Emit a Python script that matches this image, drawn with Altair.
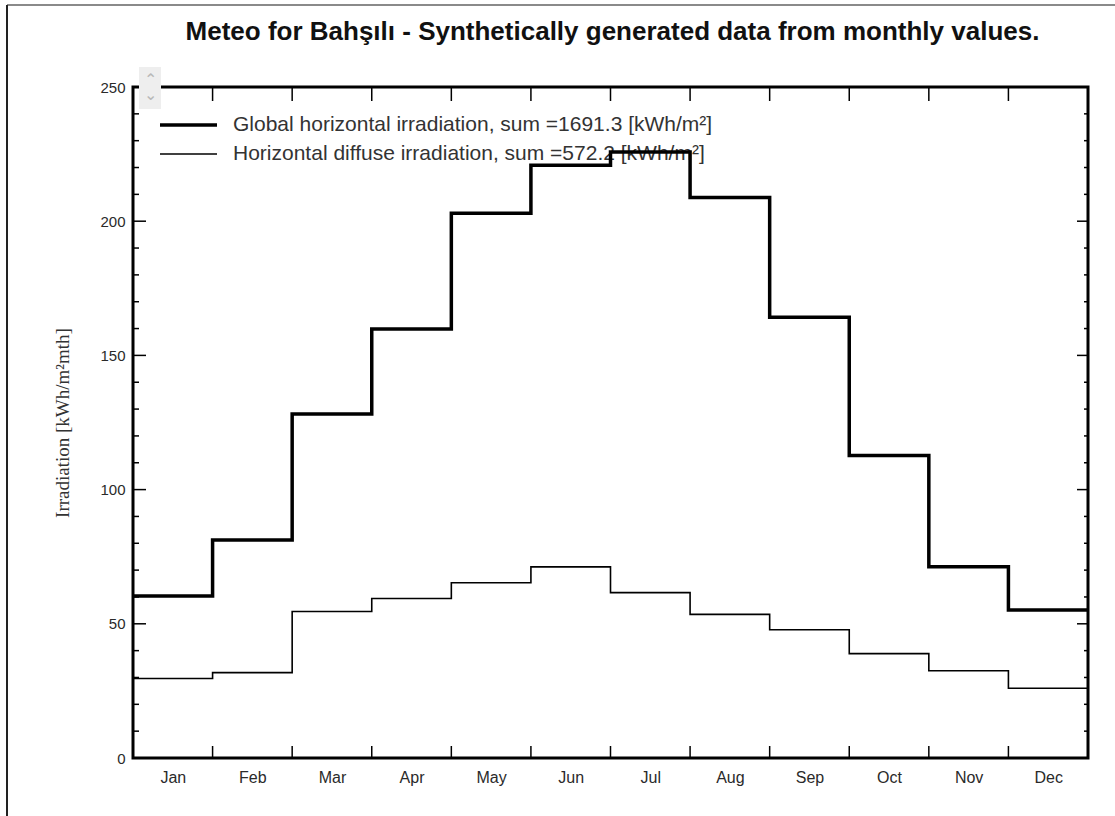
import altair as alt
import pandas as pd

# Monthly irradiation sums [kWh/m²·month]
months = ["Jan", "Feb", "Mar", "Apr", "May", "Jun",
          "Jul", "Aug", "Sep", "Oct", "Nov", "Dec"]
global_irr = [60.4, 81.2, 128.2, 159.8, 203.0, 220.8,
              225.8, 208.8, 164.2, 112.7, 71.3, 55.1]
diffuse_irr = [29.6, 31.8, 54.6, 59.4, 65.3, 71.2,
               61.6, 53.5, 47.8, 38.9, 32.5, 26.0]
series_names = ["Global horizontal irradiation",
                "Horizontal diffuse irradiation"]
chart_title = "Meteo for Bahşılı - Synthetically generated data from monthly values."

# Axis ticks
y_labels = [0, 50, 100, 150, 200, 250]
y_major_inner = [50, 100, 150, 200]
y_minor = [10, 20, 30, 40, 60, 70, 80, 90, 110, 120, 130, 140,
           160, 170, 180, 190, 210, 220, 230, 240]
month_edges = [1, 2, 3, 4, 5, 6, 7, 8, 9, 10, 11]
month_centers = [0.5, 1.5, 2.5, 3.5, 4.5, 5.5, 6.5, 7.5, 8.5, 9.5, 10.5, 11.5]

W, H = 955, 671
FONT = "Liberation Sans"
TXT = "#2a2a2a"

xs = alt.Scale(domain=[0, 12], nice=False, zero=False)
ys = alt.Scale(domain=[0, 250], nice=False)

month_expr = "[" + ",".join(f"'{m}'" for m in months) + "][floor(datum.value)]"
x_axis = alt.Axis(values=month_centers, labelExpr=month_expr, title=None,
                  tickSize=0, domain=False, grid=False, labelPadding=11,
                  labelFontSize=16, labelColor=TXT, labelFont=FONT,
                  labelOverlap=False)
y_axis = alt.Axis(values=y_labels, title="Irradiation [kWh/m²mth]",
                  tickSize=0, domain=False, grid=False, labelPadding=8,
                  labelFontSize=15, labelColor=TXT, labelFont=FONT,
                  titleFont="Liberation Serif", titleFontSize=19,
                  titleFontWeight="normal", titleColor="#333333",
                  titleAngle=270, titleX=-71, titleY=H / 2,
                  titleAlign="center", titleBaseline="middle")


def step_frame(values):
    rows = [{"x": i, "v": v} for i, v in enumerate(values)]
    rows.append({"x": len(values), "v": values[-1]})
    return pd.DataFrame(rows)


X = lambda f: alt.X(f, scale=xs, axis=x_axis)
Y = lambda f: alt.Y(f, scale=ys, axis=y_axis)

one = pd.DataFrame({"k": [0]})
layers = []

# Page border (top and left edges)
layers.append(alt.Chart(one).mark_rule(color="#8a8a8a", strokeWidth=2).encode(
    x=alt.value(-126), x2=alt.value(W + 40), y=alt.value(-82)))
layers.append(alt.Chart(one).mark_rule(color="#222222", strokeWidth=2).encode(
    x=alt.value(-126), y=alt.value(-82), y2=alt.value(H + 70)))

# Chart heading
layers.append(alt.Chart(pd.DataFrame({"t": [chart_title]})).mark_text(
    font=FONT, fontSize=26, fontWeight="bold", color="#111111",
    align="center", baseline="middle"
).encode(x=alt.value(W / 2 + 2), y=alt.value(-55), text="t:N"))

# Small scroll widget at the top-left corner of the frame
layers.append(alt.Chart(one).mark_rect(color="#eeeeee").encode(
    x=alt.value(6), x2=alt.value(28), y=alt.value(-20), y2=alt.value(22)))
for ch, yy in (("⌃", -7), ("⌄", 8)):
    layers.append(alt.Chart(one).mark_text(
        fontSize=16, color="#b8b8b8", font=FONT
    ).encode(x=alt.value(17), y=alt.value(yy), text=alt.value(ch)))

# Inward tick marks on all four sides of the frame
edges = pd.DataFrame({"b": month_edges})
layers.append(alt.Chart(edges).mark_rule(color="black", strokeWidth=1.5).encode(
    x=X("b:Q"), y=alt.value(H), y2=alt.value(H - 12)))
layers.append(alt.Chart(edges).mark_rule(color="black", strokeWidth=1.5).encode(
    x=X("b:Q"), y=alt.value(0), y2=alt.value(14)))
major = pd.DataFrame({"t": y_major_inner})
minor = pd.DataFrame({"t": y_minor})
for df, ln in ((major, 13), (minor, 6)):
    layers.append(alt.Chart(df).mark_rule(color="black", strokeWidth=1.5).encode(
        y=Y("t:Q"), x=alt.value(0), x2=alt.value(ln)))
    layers.append(alt.Chart(df).mark_rule(color="black", strokeWidth=1.5).encode(
        y=Y("t:Q"), x=alt.value(W - ln + 2), x2=alt.value(W)))

# Legend rows and step lines
widths = [3.5, 1.6]
for i, (name, vals, sw) in enumerate(zip(series_names, [global_irr, diffuse_irr], widths)):
    label = f"{name}, sum ={sum(vals):.1f} [kWh/m²]"
    ldf = pd.DataFrame({"label": [label]})
    ly = 38 + 29 * i
    layers.append(alt.Chart(ldf).mark_rule(color="black", strokeWidth=sw).encode(
        x=alt.value(27), x2=alt.value(84), y=alt.value(ly)))
    layers.append(alt.Chart(ldf).mark_text(
        align="left", baseline="middle", font=FONT, fontSize=21, color="#333333"
    ).encode(x=alt.value(100), y=alt.value(ly), text="label:N"))

for vals, sw in zip([global_irr, diffuse_irr], widths):
    layers.append(alt.Chart(step_frame(vals)).mark_line(
        interpolate="step-after", color="black", strokeWidth=sw, strokeJoin="miter"
    ).encode(x=X("x:Q"), y=Y("v:Q")))

chart = alt.layer(*layers).properties(
    width=W, height=H,
    autosize=alt.AutoSizeParams(type="none"),
    padding={"left": 133, "top": 87, "right": 27, "bottom": 58},
).configure(background="white").configure_view(stroke="black", strokeWidth=3)

chart.save("out.html", embed_options={"renderer": "svg", "actions": False})
